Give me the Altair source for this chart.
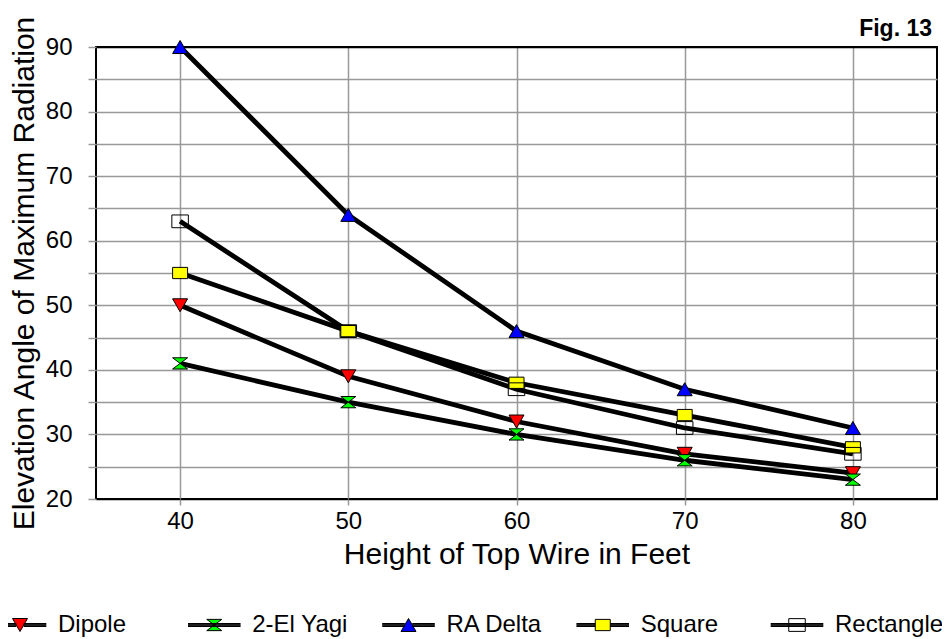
import altair as alt
import pandas as pd

# ---- data ----
heights = [40, 50, 60, 70, 80]
series_names = ["Dipole", "2-El Yagi", "RA Delta", "Square", "Rectangle"]
dipole = [50, 39, 32, 27, 24]
yagi = [41, 35, 30, 26, 23]
ra_delta = [90, 64, 46, 37, 31]
square = [55, 46, 38, 33, 28]
rectangle = [63, 46, 37, 31, 27]
y_tick_values = [20, 25, 30, 35, 40, 45, 50, 55, 60, 65, 70, 75, 80, 85, 90]
x_tick_values = [40, 50, 60, 70, 80]

# ---- styles ----
marker_colors = ["#FF0000", "#00FF00", "#0000FF", "#FFFF00", "transparent"]
outline_colors = ["black", "black", "black", "black", "black"]
HOURGLASS = "M-1,-0.75L1,-0.75L-1,0.75L1,0.75Z"
BOX = "M-1,-0.75H1V0.75H-1Z"
BOX_BIG = "M-1.1,-0.85H1.1V0.85H-1.1Z"
marker_shapes = ["triangle-down", HOURGLASS, "triangle-up", BOX, BOX_BIG]


def segs(gap):
    out = ""
    for dy in (-0.2, -0.1, 0.0, 0.1, 0.2):
        if gap <= 0:
            out += "M-3.5,%sH3.5" % dy
        else:
            out += "M-3.5,%sH-%sM%s,%sH3.5" % (dy, gap, gap, dy)
    return out


legend_shapes = [
    "M0,0.866L-1,-0.866L1,-0.866Z" + segs(0.5),
    HOURGLASS + segs(0),
    "M0,-0.866L-1,0.866L1,0.866Z" + segs(0.5),
    BOX + segs(1.0),
    BOX_BIG + segs(0),
]

FONT = "Liberation Sans"

values = [dipole, yagi, ra_delta, square, rectangle]
rows = []
for name, vals in zip(series_names, values):
    for h, v in zip(heights, vals):
        rows.append({"series": name, "height": h, "value": v})
df = pd.DataFrame(rows)

x_enc = alt.X(
    "height:Q",
    scale=alt.Scale(domain=[35, 85], nice=False, zero=False),
    axis=alt.Axis(
        values=x_tick_values,
        title="Height of Top Wire in Feet",
        tickSize=6,
        labelPadding=4,
        titlePadding=6,
        labelFlush=False,
        labelOverlap=False,
    ),
)
y_enc = alt.Y(
    "value:Q",
    scale=alt.Scale(domain=[20, 90], nice=False, zero=False),
    axis=alt.Axis(
        values=y_tick_values,
        labelExpr="datum.value % 10 === 0 ? datum.label : ''",
        title="Elevation Angle of Maximum Radiation",
        tickSize=8,
        labelPadding=16,
        titlePadding=6,
        labelOverlap=False,
        gridColor={
            "condition": {"test": "datum.value === 20 || datum.value === 90", "value": "black"},
            "value": "#999999",
        },
    ),
)

lines = alt.Chart(df).mark_line(color="black", strokeWidth=4.8).encode(
    x=x_enc, y=y_enc, detail="series:N", order="height:Q"
)

points = alt.Chart(df).mark_point(
    filled=True, size=225, stroke="black", strokeWidth=1, opacity=1
).encode(
    x=x_enc,
    y=y_enc,
    shape=alt.Shape("series:N", scale=alt.Scale(domain=series_names, range=marker_shapes), legend=None),
    fill=alt.Fill("series:N", scale=alt.Scale(domain=series_names, range=marker_colors), legend=None),
)

leg = alt.Legend(
    title=None,
    orient="none",
    legendX=-88,
    legendY=566,
    direction="horizontal",
    columns=5,
    gridAlign="all",
    columnPadding=18.25,
    symbolSize=225,
    symbolStrokeColor="black",
    symbolStrokeWidth=1,
    symbolOpacity=1,
    labelFont=FONT,
    labelFontSize=24,
    labelColor="black",
    labelOffset=26,
    labelLimit=400,
    padding=0,
)

legend_layer = alt.Chart(df).transform_filter("false").mark_point(
    filled=True, stroke="black", strokeWidth=1
).encode(
    shape=alt.Shape("series:N", scale=alt.Scale(domain=series_names, range=legend_shapes), legend=leg),
    fill=alt.Fill("series:N", scale=alt.Scale(domain=series_names, range=marker_colors), legend=leg),
    stroke=alt.Stroke("series:N", scale=alt.Scale(domain=series_names, range=outline_colors), legend=leg),
)

chart = (
    alt.layer(lines, points, legend_layer)
    .resolve_scale(shape="independent", fill="independent", stroke="independent")
    .properties(
        width=841,
        height=452,
        background="white",
        autosize=alt.AutoSizeParams(type="none"),
        padding={"left": 88, "top": 39, "right": 5, "bottom": 140},
        title=alt.Title(
            "Fig. 13",
            anchor="end",
            frame="group",
            font=FONT,
            fontSize=23,
            fontWeight="bold",
            color="black",
            dx=-5,
            dy=30,
            offset=4,
        ),
    )
    .configure_view(stroke="black", strokeWidth=2)
    .configure_axis(
        labelFont=FONT,
        labelFontSize=24,
        labelColor="black",
        titleFont=FONT,
        titleFontSize=30,
        titleFontWeight="normal",
        titleColor="black",
        gridColor="#999999",
        gridWidth=1.5,
        tickColor="#999999",
        tickWidth=1.5,
        domain=False,
    )
)

chart.save("out.html", embed_options={"renderer": "svg", "actions": False})
